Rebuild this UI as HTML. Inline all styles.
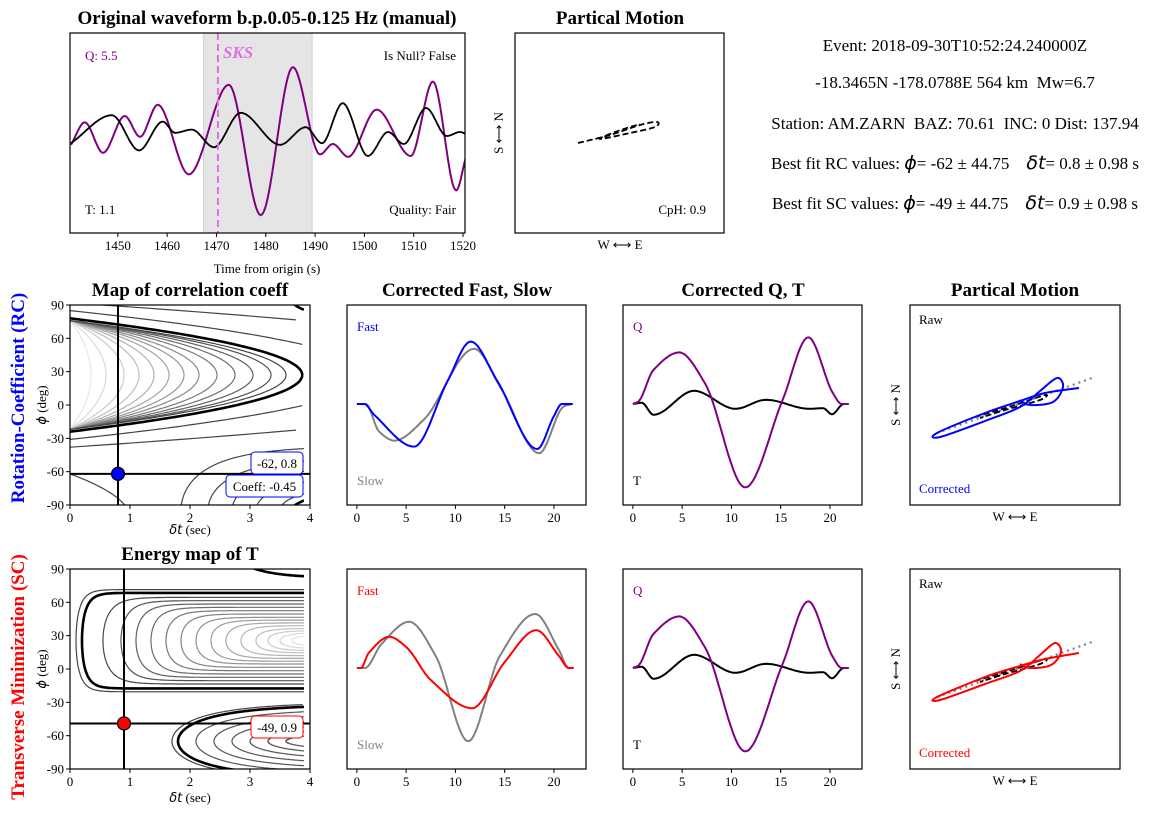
<!DOCTYPE html>
<html><head><meta charset="utf-8"><style>
html,body{margin:0;padding:0;background:#fff;}
svg{display:block;font-family:"Liberation Serif",serif;}
text{white-space:pre;}
</style></head><body>
<svg id="chart" width="1164" height="817" viewBox="0 0 1164 817" xmlns="http://www.w3.org/2000/svg">
<defs>
<clipPath id="clipRC"><rect x="70" y="305" width="234" height="200"/></clipPath>
<clipPath id="clipSC"><rect x="70" y="569" width="234" height="200"/></clipPath>
<clipPath id="clipTop"><rect x="70" y="33" width="395" height="200"/></clipPath>
</defs>
</svg>
<script>
// ---- Data ----
const waveQTimes=[1440.5,1443.3,1447.0,1451.4,1454.5,1458.1,1464.4,1472.5,1479.0,1485.5,1491.0,1493.6,1496.7,1502.5,1509.4,1513.9,1518.6,1520.6];
const waveQAmps=[-0.06,0.22,-0.16,0.30,0.04,0.44,-0.43,0.69,-0.94,0.91,-0.18,-0.05,-0.21,0.38,-0.20,0.73,-0.63,-0.21];
const waveTTimes=[1440.5,1448.8,1454.3,1459.1,1461.6,1465.0,1469.5,1474.9,1482.9,1488.1,1491.4,1495.6,1500.7,1504.8,1508.0,1512.5,1516.7,1519.4,1520.6];
const waveTAmps=[-0.04,0.31,-0.13,0.23,0.09,0.13,-0.09,0.34,-0.06,0.16,-0.04,0.46,-0.20,0.10,-0.05,0.40,0.05,0.10,0.075];
const windowStart=1467.4, windowEnd=1489.4, sksTime=1470.3;
const topXTicks=[1450,1460,1470,1480,1490,1500,1510,1520];

const rcFastT=[0,0.74,1.76,5.8,9.2,11.55,14.26,18.3,20,20.8,21.9];
const rcFastV=[0,0,-0.18,-0.71,0.38,1.04,0.38,-0.75,-0.2,0,0];
const rcSlowT=[0,0.9,2.26,3.8,6.8,11.9,14.6,18.5,21,21.9];
const rcSlowV=[0,0,-0.46,-0.61,-0.26,0.92,0.27,-0.82,-0.04,0];
const scFastT=[0,0.4,1.2,3.3,5,7.5,11.7,15,18.2,20.5,21.5,22];
const scFastV=[0,0,0.25,0.52,0.35,-0.2,-0.67,0.1,0.63,0.2,0,0];
const scSlowT=[0,0.8,2.5,5.3,8,11.3,14.5,18.1,20.5,21.5,22];
const scSlowV=[0,0,0.4,0.77,0.2,-1.22,0.2,0.9,0.3,0,0];
const qT=[0,0.55,2.1,4.7,7.3,11.4,15.2,17.8,20.3,21.2,21.9];
const qV=[0,0.04,0.57,0.86,0.35,-1.39,0.07,1.11,0.18,0,0];
const tT=[0,0.9,2.1,6.2,10.4,13.5,17.9,19.3,20.2,21.4,21.9];
const tV=[0,0.02,-0.18,0.22,-0.08,0.07,-0.08,-0.07,-0.17,0,0];
const corrXTicks=[0,5,10,15,20];

const rcBest={phi:-62,dt:0.8}, scBest={phi:-49,dt:0.9};
const mapYTicks=[90,60,30,0,-30,-60,-90];
const mapXTicks=[0,1,2,3,4];
const rcInnerV=[0.35,0.6,0.9,1.15,1.4,1.65,1.9,2.15,2.45,2.75,3.05,3.35,3.6];
const rcOuterV=[5,9];
const rcOuterW=[58,65];
const rcLowV=[1.85,2.3,2.7,3.1,3.5];
const rcLowW=[58,48,40,32,24];
const scInnerV=[0.55,0.85,1.1,1.35,1.6,1.85,2.1,2.35,2.6,2.85,3.1,3.3,3.5,3.7];
const scInnerW=[39,36,33,30,27,24,21,18.5,16,13.5,11,9,7,5];
const scLowV=[2.1,2.4,2.7,3.0,3.3,3.6];
const scLowW=[29,25,21,17,13,9];

const pmTopE=[-0.42,-0.1,0.2,0.37,0.35,0.1,-0.2,-0.05,0.2];
const pmTopN=[-0.10,-0.02,0.08,0.11,0.06,0.0,-0.06,0.01,0.09];
const rawE=[-0.4,0.0,0.3,0.25,-0.1,-0.35];
const rawN=[-0.12,0.0,0.10,0.05,-0.05,-0.13];
const corrRCE=[0.64,0.3,0.05,-0.3,-0.78,-0.75,-0.3,0.05,0.25,0.42,0.48,0.38,0.15,0.05];
const corrRCN=[0.17,0.12,0.04,-0.08,-0.28,-0.32,-0.16,-0.02,0.14,0.27,0.18,0.03,0.0,0.05];
const corrSCE=[0.64,0.3,0.05,-0.3,-0.78,-0.75,-0.3,0.05,0.25,0.40,0.46,0.36,0.15,0.05];
const corrSCN=[0.16,0.10,0.03,-0.08,-0.28,-0.31,-0.15,-0.02,0.14,0.26,0.17,0.04,0.01,0.05];

// ---- Helpers ----
const NS='http://www.w3.org/2000/svg';
const S=document.getElementById('chart');
function el(tag,attrs,parent,name){
  const e=document.createElementNS(NS,tag);
  for(const k in attrs) e.setAttribute(k,attrs[k]);
  
  
  (parent||S).appendChild(e);return e;
}
function txt(x,y,s,attrs,name,parent){const a=Object.assign({x:x,y:y,'font-size':13},attrs||{});const t=el('text',a,parent,name);t.textContent=s;return t;}
function lin(a,b,c,d){return v=>c+(v-a)/(b-a)*(d-c);}
function mono(xs,ys){
  const n=xs.length,d=[],m=[];
  for(let i=0;i<n-1;i++)d[i]=(ys[i+1]-ys[i])/(xs[i+1]-xs[i]);
  m[0]=d[0];m[n-1]=d[n-2];
  for(let i=1;i<n-1;i++){m[i]=(d[i-1]*d[i]<=0)?0:2/(1/d[i-1]+1/d[i]);}
  if(Math.abs(ys[0])<1e-9&&Math.abs(ys[1])<1e-9)m[0]=0;
  const pts=[];
  for(let i=0;i<n-1;i++){const h=xs[i+1]-xs[i];for(let k=0;k<20;k++){const t=k/20,t2=t*t,t3=t2*t;
    const y=(2*t3-3*t2+1)*ys[i]+(t3-2*t2+t)*h*m[i]+(-2*t3+3*t2)*ys[i+1]+(t3-t2)*h*m[i+1];pts.push([xs[i]+t*h,y]);}}
  pts.push([xs[n-1],ys[n-1]]);return pts;
}
function catmull(P){let s='M'+P[0][0].toFixed(1)+','+P[0][1].toFixed(1);
  for(let i=0;i<P.length-1;i++){const p0=P[Math.max(0,i-1)],p1=P[i],p2=P[i+1],p3=P[Math.min(P.length-1,i+2)];
    s+=' C'+(p1[0]+(p2[0]-p0[0])/6).toFixed(1)+','+(p1[1]+(p2[1]-p0[1])/6).toFixed(1)+' '+(p2[0]-(p3[0]-p1[0])/6).toFixed(1)+','+(p2[1]-(p3[1]-p1[1])/6).toFixed(1)+' '+p2[0].toFixed(1)+','+p2[1].toFixed(1);}
  return s;}
function poly(pts,X,Y){return 'M'+pts.map(p=>X(p[0]).toFixed(1)+','+Y(p[1]).toFixed(1)).join(' L');}
function segPath(p,X,Y){let s='',pen=false;p.forEach(q=>{if(q[0]>3.9||isNaN(q[0])){pen=false;return;}s+=(pen?' L':' M')+X(q[0]).toFixed(1)+','+Y(q[1]).toFixed(1);pen=true;});return s||'M0,0';}
function frame(x,y,w,h,name){el('rect',{x:x,y:y,width:w,height:h,fill:'none',stroke:'#000','stroke-width':1.2},S,name);}
function xticks(vals,X,yb,name){vals.forEach(v=>{el('line',{x1:X(v),x2:X(v),y1:yb,y2:yb+4,stroke:'#000'},S,name+'-tick');txt(X(v),yb+17,String(v),{'text-anchor':'middle'},name+'-label');});}
function yticks(vals,Y,xl,name){vals.forEach(v=>{el('line',{x1:xl-4,x2:xl,y1:Y(v),y2:Y(v),stroke:'#000'},S,name+'-tick');txt(xl-6,Y(v)+4.5,String(v),{'text-anchor':'end'},name+'-label');});}
function title(x,y,s,name){txt(x,y,s,{'text-anchor':'middle','font-size':19,'font-weight':'bold'},name);}

// ---- Top waveform ----
{const X=lin(1440.3,1520.4,70,465),Y=lin(0,1,140,60);
el('rect',{x:X(windowStart),y:33,width:X(windowEnd)-X(windowStart),height:200,fill:'#e5e5e5',stroke:'#d0d0d0'},S,'analysis-window');
const g=el('g',{'clip-path':'url(#clipTop)'},S,'waveform-group');
el('path',{d:poly(mono(waveQTimes,waveQAmps),X,Y),fill:'none',stroke:'#800080','stroke-width':2},g,'q-trace');
el('path',{d:poly(mono(waveTTimes,waveTAmps),X,Y),fill:'none',stroke:'#000','stroke-width':1.8},g,'t-trace');
el('line',{x1:X(sksTime),x2:X(sksTime),y1:33,y2:233,stroke:'#e070e0','stroke-width':2,'stroke-dasharray':'7,4'},S,'sks-marker');
txt(X(sksTime)+5,58,'SKS',{fill:'#e070e0','font-size':17,'font-weight':'bold','font-style':'italic'},'sks-label');
frame(70,33,395,200,'waveform-axes');
xticks(topXTicks,X,233,'waveform-x');
txt(267,273,'Time from origin (s)',{'text-anchor':'middle'},'waveform-x-title');
txt(85,60,'Q: 5.5',{fill:'#800080'},'q-label');
txt(85,214,'T: 1.1',{},'t-label');
txt(456,60,'Is Null? False',{'text-anchor':'end'},'null-label');
txt(456,214,'Quality: Fair',{'text-anchor':'end'},'quality-label');
title(267,24,'Original waveform b.p.0.05-0.125 Hz (manual)','waveform-title');}

// ---- Top particle motion ----
{const X=lin(0,1,620,720),Y=lin(0,1,133,33);
frame(515,33,209,200,'top-particle-axes');
el('path',{d:catmull(pmTopE.map((e,i)=>[X(e),Y(pmTopN[i])])),fill:'none',stroke:'#000','stroke-width':1.8,'stroke-dasharray':'6,3'},S,'top-particle-path');
title(620,24,'Partical Motion','top-particle-title');
txt(706,214,'CpH: 0.9',{'text-anchor':'end'},'cph-label');
txt(620,249,'W ⟷ E',{'text-anchor':'middle'},'top-pm-x-title');
txt(0,0,'S ⟷ N',{'text-anchor':'middle',transform:'translate(503,133) rotate(-90)'},'top-pm-y-title');}

// ---- Info text ----
{const lines=[['Event: 2018-09-30T10:52:24.240000Z',56],['-18.3465N -178.0788E 564 km  Mw=6.7',93],['Station: AM.ZARN  BAZ: 70.61  INC: 0 Dist: 137.94',134]];
lines.forEach((l,i)=>txt(955,l[1]-5,l[0],{'text-anchor':'middle','font-size':17},'info-line-'+(i+1)));
[['RC',-62,0.8,169],['SC',-49,0.9,209]].forEach(r=>{
 const t=el('text',{x:955,y:r[3],'text-anchor':'middle','font-size':17},S,'best-fit-'+r[0].toLowerCase());
 t.innerHTML='Best fit '+r[0]+' values: <tspan font-family="DejaVu Sans" font-style="italic" font-size="19">ϕ</tspan>= '+r[1]+' ± 44.75    <tspan font-family="DejaVu Sans" font-style="italic" font-size="19">δt</tspan>= '+r[2]+' ± 0.98 s';});}

// ---- Contour maps ----
function leftCurve(V,W,c,X,Y){const p=[];for(let i=0;i<=160;i++){const ph=c-W+2*W*i/160;p.push([V*(1-Math.pow((ph-c)/W,2)),ph]);}return segPath(p,X,Y);}
function rightCurve(V,W,c,s,X,Y){
  if(V>3.9)return 'M0,0';
  const up=[],lo=[];const n=200;
  for(let i=0;i<=n;i++){const f=i/n;const dt=V+(3.9-V)*f*f;const d=W*Math.sqrt(1-Math.exp(-(dt-V)/s));up.push([dt,c+d]);lo.push([dt,c-d]);}
  const p=up.reverse().concat(lo.slice(1));return segPath(p,X,Y);}
function grayFor(i,n){const v=Math.round(70+(i/(n-1))*160);return 'rgb('+v+','+v+','+v+')';}

// RC map
{const X=lin(0,4,70,310),Y=lin(90,-90,305,505);
const g=el('g',{'clip-path':'url(#clipRC)',fill:'none'},S,'rc-contours');
rcInnerV.forEach((v,i)=>el('path',{d:leftCurve(v,49,27,X,Y),stroke:grayFor(rcInnerV.length-1-i,rcInnerV.length),'stroke-width':1.2},g,'rc-contour'));
el('path',{d:leftCurve(3.87,51,27,X,Y),stroke:'#000','stroke-width':2.6},g,'rc-contour-thick');
rcOuterV.forEach((v,i)=>el('path',{d:leftCurve(v,rcOuterW[i],27,X,Y),stroke:'#444','stroke-width':1.2},g,'rc-contour-outer'));
rcLowV.forEach((v,i)=>el('path',{d:rightCurve(v,rcLowW[i],-95,0.8,X,Y),stroke:'#444','stroke-width':1.2},g,'rc-contour-low'));
el('path',{d:leftCurve(1.0,40,-102,X,Y),stroke:'#444','stroke-width':1.2},g,'rc-contour-corner');
el('path',{d:rightCurve(3.4,60,-140,0.3,X,Y),stroke:'#000','stroke-width':2.6},g,'rc-contour-corner-thick');
el('path',{d:rightCurve(3.5,40,120,0.3,X,Y),stroke:'#000','stroke-width':2.6},g,'rc-contour-top-thick');
el('line',{x1:X(rcBest.dt),x2:X(rcBest.dt),y1:305,y2:505,stroke:'#000','stroke-width':2},S,'rc-crosshair-v');
el('line',{x1:70,x2:310,y1:Y(rcBest.phi),y2:Y(rcBest.phi),stroke:'#000','stroke-width':2},S,'rc-crosshair-h');
el('circle',{cx:X(rcBest.dt),cy:Y(rcBest.phi),r:6.5,fill:'#0000ff',stroke:'#000','stroke-width':1.2},S,'rc-best-point');
frame(70,305,240,200,'rc-map-axes');
xticks(mapXTicks,X,505,'rc-map-x');yticks(mapYTicks,Y,70,'rc-map-y');
el('rect',{x:251,y:452,width:52,height:22,rx:4,fill:'#fff',stroke:'#0000ff'},S,'rc-best-box');
txt(277,468,rcBest.phi+', '+rcBest.dt,{'text-anchor':'middle'},'rc-best-text');
el('rect',{x:226,y:475,width:77,height:22,rx:4,fill:'#fff',stroke:'#0000ff'},S,'rc-coeff-box');
txt(264.5,491,'Coeff: -0.45',{'text-anchor':'middle'},'rc-coeff-text');
title(190,296,'Map of correlation coeff','rc-map-title');
txt(190,534,'',{'text-anchor':'middle'},'rc-map-x-title').innerHTML='<tspan font-family="DejaVu Sans" font-style="italic">δt</tspan> (sec)';
txt(0,0,'',{'text-anchor':'middle',transform:'translate(46,405) rotate(-90)'},'rc-map-y-title').innerHTML='<tspan font-family="DejaVu Sans" font-style="italic">ϕ</tspan> (deg)';}
// SC map
{const X=lin(0,4,70,310),Y=lin(90,-90,569,769);
const g=el('g',{'clip-path':'url(#clipSC)',fill:'none'},S,'sc-contours');
el('path',{d:rightCurve(0.1,46,25.5,0.12,X,Y),stroke:'#444','stroke-width':1.2},g,'sc-contour-outer');
scInnerV.forEach((v,i)=>el('path',{d:rightCurve(v,scInnerW[i],25.5,0.2,X,Y),stroke:grayFor(i,scInnerV.length),'stroke-width':1.2},g,'sc-contour'));
el('path',{d:rightCurve(0.2,43,25.5,0.12,X,Y),stroke:'#000','stroke-width':2.6},g,'sc-contour-thick');
el('path',{d:rightCurve(1.7,35,-65,1.0,X,Y),stroke:'#444','stroke-width':1.2},g,'sc-contour-low-outer');
scLowV.forEach((v,i)=>el('path',{d:rightCurve(v,scLowW[i],-65,1.0,X,Y),stroke:'#555','stroke-width':1.2},g,'sc-contour-low'));
el('path',{d:rightCurve(1.8,33,-65,1.0,X,Y),stroke:'#000','stroke-width':2.6},g,'sc-contour-low-thick');
el('path',{d:rightCurve(2.5,48,130,0.5,X,Y),stroke:'#000','stroke-width':2.6},g,'sc-contour-top-thick');
el('line',{x1:X(scBest.dt),x2:X(scBest.dt),y1:569,y2:769,stroke:'#000','stroke-width':2},S,'sc-crosshair-v');
el('line',{x1:70,x2:310,y1:Y(scBest.phi),y2:Y(scBest.phi),stroke:'#000','stroke-width':2},S,'sc-crosshair-h');
el('circle',{cx:X(scBest.dt),cy:Y(scBest.phi),r:6.5,fill:'#ff0000',stroke:'#000','stroke-width':1.2},S,'sc-best-point');
frame(70,569,240,200,'sc-map-axes');
xticks(mapXTicks,X,769,'sc-map-x');yticks(mapYTicks,Y,70,'sc-map-y');
el('rect',{x:251,y:716,width:52,height:22,rx:4,fill:'#fff',stroke:'#ff0000'},S,'sc-best-box');
txt(277,732,scBest.phi+', '+scBest.dt,{'text-anchor':'middle'},'sc-best-text');
title(190,560,'Energy map of T','sc-map-title');
txt(190,802,'',{'text-anchor':'middle'},'sc-map-x-title').innerHTML='<tspan font-family="DejaVu Sans" font-style="italic">δt</tspan> (sec)';
txt(0,0,'',{'text-anchor':'middle',transform:'translate(46,669) rotate(-90)'},'sc-map-y-title').innerHTML='<tspan font-family="DejaVu Sans" font-style="italic">ϕ</tspan> (deg)';}

// ---- Corrected waveform panels ----
function wavePanel(x0,y0,series,labels,ttl,name){
  const X=lin(-1.0,23.25,x0,x0+239),Y=lin(0,1,y0+99,y0+39);
  series.forEach(s=>el('path',{d:poly(mono(s[0],s[1]),X,Y),fill:'none',stroke:s[2],'stroke-width':2},S,name+'-'+s[3]));
  frame(x0,y0,239,200,name+'-axes');
  xticks(corrXTicks,X,y0+200,name+'-x');
  txt(x0+10,y0+26,labels[0][0],{fill:labels[0][1]},name+'-top-label');
  txt(x0+10,y0+180,labels[1][0],{fill:labels[1][1]},name+'-bottom-label');
  if(ttl)title(x0+120,y0-9,ttl,name+'-title');
}
wavePanel(347,305,[[rcSlowT,rcSlowV,'#808080','slow'],[rcFastT,rcFastV,'#0000ff','fast']],[['Fast','#0000ff'],['Slow','#808080']],'Corrected Fast, Slow','rc-fast-slow');
wavePanel(623,305,[[tT,tV,'#000','t'],[qT,qV,'#800080','q']],[['Q','#800080'],['T','#000']],'Corrected Q, T','rc-qt');
wavePanel(347,569,[[scSlowT,scSlowV,'#808080','slow'],[scFastT,scFastV,'#ff0000','fast']],[['Fast','#ff0000'],['Slow','#808080']],null,'sc-fast-slow');
wavePanel(623,569,[[tT,tV,'#000','t'],[qT,qV,'#800080','q']],[['Q','#800080'],['T','#000']],null,'sc-qt');

// ---- Particle motion panels ----
function pmPanel(y0,E,N,col,ttl,name){
  const X=lin(0,1,1015,1115),Y=lin(0,1,y0+100,y0);
  frame(910,y0,210,200,name+'-axes');
  el('line',{x1:X(-0.78),y1:Y(-0.28),x2:X(0.8),y2:Y(0.28),stroke:'#808080','stroke-width':2.2,'stroke-dasharray':'2,4'},S,name+'-fast-axis');
  el('path',{d:catmull(rawE.map((e,i)=>[X(e),Y(rawN[i])])),fill:'none',stroke:'#000','stroke-width':1.8,'stroke-dasharray':'6,3'},S,name+'-raw');
  el('path',{d:catmull(E.map((e,i)=>[X(e),Y(N[i])])),fill:'none',stroke:col,'stroke-width':2},S,name+'-corrected');
  txt(919,y0+19,'Raw',{},name+'-raw-label');
  txt(919,y0+188,'Corrected',{fill:col},name+'-corrected-label');
  txt(1015,y0+216,'W ⟷ E',{'text-anchor':'middle'},name+'-x-title');
  txt(0,0,'S ⟷ N',{'text-anchor':'middle',transform:'translate(900,'+(y0+100)+') rotate(-90)'},name+'-y-title');
  if(ttl)title(1015,y0-9,ttl,name+'-title');
}
pmPanel(305,corrRCE,corrRCN,'#0000ff','Partical Motion','rc-particle');
pmPanel(569,corrSCE,corrSCN,'#ff0000',null,'sc-particle');

// ---- Row labels ----
txt(0,0,'Rotation-Coefficient (RC)',{'text-anchor':'middle','font-size':19,'font-weight':'bold',fill:'#0000ff',transform:'translate(24,398) rotate(-90)'},'rc-row-label');
txt(0,0,'Transverse Minimization (SC)',{'text-anchor':'middle','font-size':19,'font-weight':'bold',fill:'#ff0000',transform:'translate(24,677) rotate(-90)'},'sc-row-label');
</script>
</body></html>
